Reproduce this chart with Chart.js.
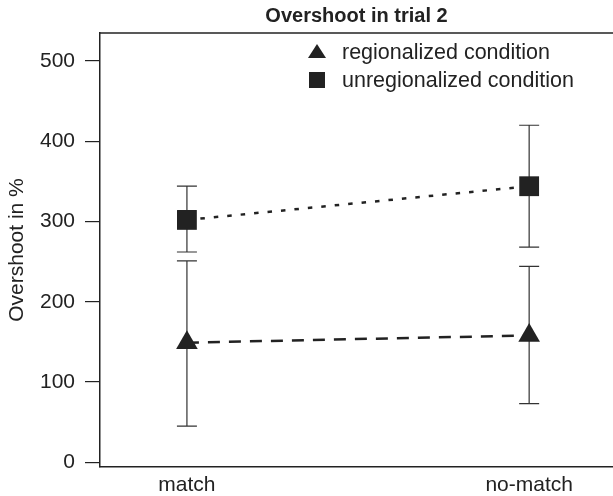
<!DOCTYPE html>
<html>
<head>
<meta charset="utf-8">
<title>Overshoot in trial 2</title>
<script src="https://cdn.jsdelivr.net/npm/chart.js@4.4.1/dist/chart.umd.min.js"></script>
<style>
  html, body { margin: 0; padding: 0; background: #fff; overflow: hidden; }
  canvas { display: block; }
</style>
</head>
<body>
<canvas id="myChart" width="613" height="496"></canvas>
<script>
// data
const categories = ['match', 'no-match']
const yTicks = [0, 100, 200, 300, 400, 500]

const regionalizedMean = [149, 158]
const regionalizedLow = [45, 73]
const regionalizedHigh = [251, 244]

const unregionalizedMean = [302, 344]
const unregionalizedLow = [262, 268]
const unregionalizedHigh = [344, 420]

const ink = '#222'
const fontFamily = "'Liberation Sans', Arial, Helvetica, sans-serif"

function toPoints(values) {
    return values.map((v, i) => ({x: i + 1, y: v}))
}

// error bars, drawn under the markers
const errorBars = {
    id: 'errorBars',
    beforeDatasetsDraw: (chart) => {
        const {ctx, scales: {x, y}} = chart
        ctx.save()
        ctx.strokeStyle = '#333'
        ctx.lineWidth = 1.2
        chart.data.datasets.forEach(ds => {
            ds.low.forEach((lo, i) => {
                const px = x.getPixelForValue(i + 1)
                const yLo = y.getPixelForValue(lo)
                const yHi = y.getPixelForValue(ds.high[i])
                ctx.beginPath()
                ctx.moveTo(px, yLo)
                ctx.lineTo(px, yHi)
                ctx.moveTo(px - 10, yLo)
                ctx.lineTo(px + 10, yLo)
                ctx.moveTo(px - 10, yHi)
                ctx.lineTo(px + 10, yHi)
                ctx.stroke()
            })
        })
        ctx.restore()
    }
}

// top edge of the box + legend inside the plot
const boxAndLegend = {
    id: 'boxAndLegend',
    afterDraw: (chart) => {
        const {ctx, chartArea: {top, left, right}} = chart
        ctx.save()
        ctx.strokeStyle = ink
        ctx.lineWidth = 1.5
        ctx.beginPath()
        ctx.moveTo(left, top)
        ctx.lineTo(right, top)
        ctx.stroke()

        const mx = left + 217
        const rows = [top + 19, top + 47]
        ctx.fillStyle = ink
        // triangle
        ctx.beginPath()
        ctx.moveTo(mx, rows[0] - 8)
        ctx.lineTo(mx + 9, rows[0] + 6)
        ctx.lineTo(mx - 9, rows[0] + 6)
        ctx.closePath()
        ctx.fill()
        // square
        ctx.fillRect(mx - 8, rows[1] - 8, 16, 16)

        ctx.font = '21.5px ' + fontFamily
        ctx.textBaseline = 'middle'
        ctx.textAlign = 'left'
        chart.data.datasets.forEach((ds, i) => {
            ctx.fillText(ds.label, mx + 25, rows[i] + 1)
        })
        ctx.restore()
    }
}

const ctx = document.getElementById('myChart').getContext('2d')
const myChart = new Chart(ctx, {
    type: 'line',
    data: {
        datasets: [{
            label: 'regionalized condition',
            data: toPoints(regionalizedMean),
            low: regionalizedLow,
            high: regionalizedHigh,
            borderColor: ink,
            backgroundColor: ink,
            borderWidth: 2.5,
            borderDash: [12, 9],
            pointStyle: 'triangle',
            pointRadius: 12.5,
            pointBorderWidth: 0,
            fill: false
        }, {
            label: 'unregionalized condition',
            data: toPoints(unregionalizedMean),
            low: unregionalizedLow,
            high: unregionalizedHigh,
            borderColor: ink,
            backgroundColor: ink,
            borderWidth: 2.5,
            borderDash: [4.5, 9],
            pointStyle: 'rect',
            pointRadius: 14,
            pointBorderWidth: 0,
            fill: false
        }]
    },
    options: {
        responsive: false,
        animation: false,
        layout: {padding: 0, autoPadding: false},
        scales: {
            x: {
                type: 'linear',
                min: 0.746,
                max: 2.245,
                afterBuildTicks: (scale) => { scale.ticks = categories.map((c, i) => ({value: i + 1})) },
                afterFit: (scale) => { scale.height = 29 },
                grid: {display: false, drawTicks: false},
                border: {display: true, color: ink, width: 1.5},
                ticks: {
                    padding: 6,
                    maxRotation: 0,
                    color: ink,
                    font: {family: fontFamily, size: 21},
                    callback: (value) => categories[Math.round(value) - 1]
                }
            },
            y: {
                min: -6,
                max: 535,
                afterBuildTicks: (scale) => { scale.ticks = yTicks.map(v => ({value: v})) },
                afterFit: (scale) => { scale.width = 100 },
                grid: {drawOnChartArea: false, drawTicks: true, tickLength: 15, color: ink, lineWidth: 1.2},
                border: {display: true, color: ink, width: 1.5},
                ticks: {
                    padding: 10,
                    color: ink,
                    font: {family: fontFamily, size: 21}
                },
                title: {
                    display: true,
                    text: 'Overshoot in %',
                    color: ink,
                    font: {family: fontFamily, size: 21},
                    padding: {top: 5, bottom: 0}
                }
            }
        },
        plugins: {
            legend: {display: false},
            tooltip: {enabled: false},
            title: {
                display: true,
                text: 'Overshoot in trial 2',
                fullSize: false,
                color: ink,
                font: {family: fontFamily, size: 20, weight: 'bold'},
                padding: {top: 4, bottom: 5}
            }
        }
    },
    plugins: [errorBars, boxAndLegend]
})
</script>
</body>
</html>
